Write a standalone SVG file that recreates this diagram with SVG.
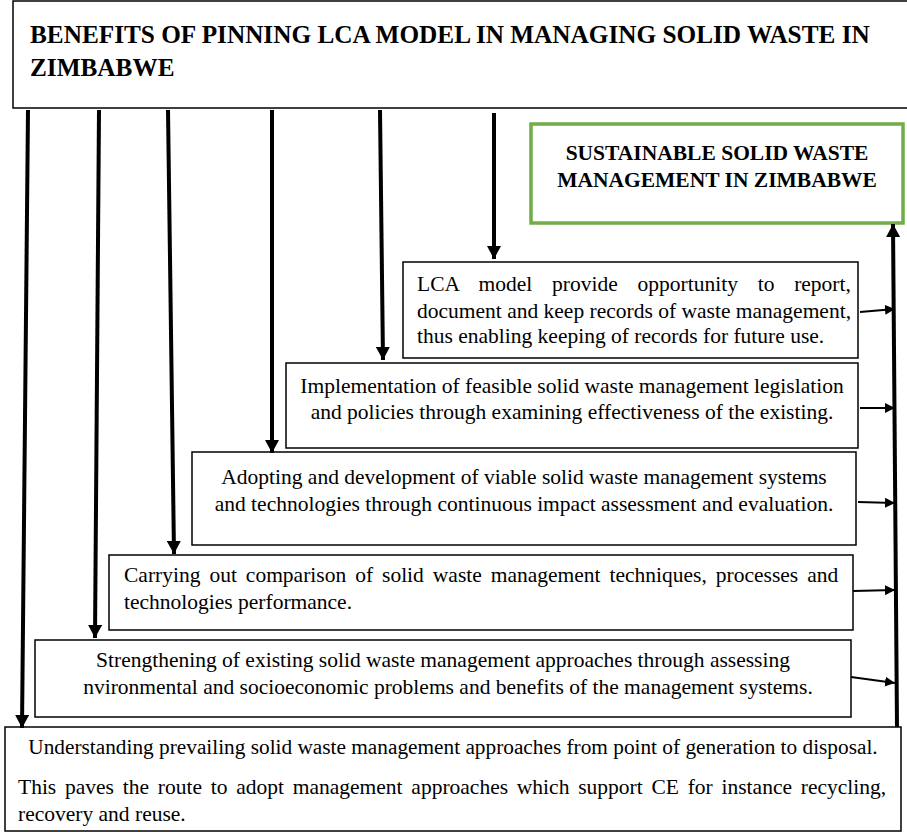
<svg xmlns="http://www.w3.org/2000/svg" width="907" height="832" viewBox="0 0 907 832">
<defs>
<style>
.box{fill:#fff;stroke:#000;stroke-width:1.5}
.green{fill:#fff;stroke:#70AD47;stroke-width:3.5}
.down{stroke:#000;stroke-width:4;fill:none}
.side{stroke:#000;stroke-width:1.8;fill:none}
</style>
<marker id="big" markerUnits="userSpaceOnUse" markerWidth="14" markerHeight="14" refX="13" refY="7" orient="auto">
<path d="M0,0 L13,7 L0,14 Z" fill="#000"/>
</marker>
<marker id="small" markerUnits="userSpaceOnUse" markerWidth="11" markerHeight="10" refX="10" refY="5" orient="auto">
<path d="M0,0 L10,5 L0,10 Z" fill="#000"/>
</marker>
</defs>

<g id="title">
<rect class="box" x="13" y="1" width="900" height="107"/>
<text x="30" y="43" font-family="'Liberation Serif', serif" font-weight="bold" font-size="25.25" fill="#000">BENEFITS OF PINNING LCA MODEL IN MANAGING SOLID WASTE IN</text>
<text x="30" y="76" font-family="'Liberation Serif', serif" font-weight="bold" font-size="25.25" fill="#000">ZIMBABWE</text>
</g>

<g id="goal">
<rect class="green" x="531" y="124" width="372" height="99"/>
<text x="717" y="160" text-anchor="middle" font-family="'Liberation Serif', serif" font-weight="bold" font-size="21.5" fill="#000">SUSTAINABLE SOLID WASTE</text>
<text x="717" y="187" text-anchor="middle" font-family="'Liberation Serif', serif" font-weight="bold" font-size="21.5" fill="#000">MANAGEMENT IN ZIMBABWE</text>
</g>

<g id="records">
<rect class="box" x="403" y="262" width="455" height="96"/>
<text x="417" y="291" word-spacing="14.4" font-family="'Liberation Serif', serif" font-size="21.5" fill="#000">LCA model provide opportunity to report,</text>
<text x="417" y="318" font-family="'Liberation Serif', serif" font-size="21.5" fill="#000">document and keep records of waste management,</text>
<text x="417" y="343" font-family="'Liberation Serif', serif" font-size="21.5" fill="#000">thus enabling keeping of records for future use.</text>
</g>

<g id="legislation">
<rect class="box" x="286" y="363" width="572" height="85"/>
<text x="572" y="393" text-anchor="middle" font-family="'Liberation Serif', serif" font-size="21.5" fill="#000">Implementation of feasible solid waste management legislation</text>
<text x="572" y="419" text-anchor="middle" font-family="'Liberation Serif', serif" font-size="21.5" fill="#000">and policies through examining effectiveness of the existing.</text>
</g>

<g id="systems">
<rect class="box" x="192" y="452" width="664" height="93"/>
<text x="524" y="484" text-anchor="middle" font-family="'Liberation Serif', serif" font-size="21.5" fill="#000">Adopting and development of viable solid waste management systems</text>
<text x="524" y="511" text-anchor="middle" font-family="'Liberation Serif', serif" font-size="21.5" fill="#000">and technologies through continuous impact assessment and evaluation.</text>
</g>

<g id="comparison">
<rect class="box" x="109" y="555" width="744" height="75"/>
<text x="124" y="582" word-spacing="3.6" font-family="'Liberation Serif', serif" font-size="21.5" fill="#000">Carrying out comparison of solid waste management techniques, processes and</text>
<text x="124" y="609" font-family="'Liberation Serif', serif" font-size="21.5" fill="#000">technologies performance.</text>
</g>

<g id="strengthening">
<rect class="box" x="35" y="640" width="816" height="77"/>
<text x="443" y="667" text-anchor="middle" font-family="'Liberation Serif', serif" font-size="21.5" fill="#000">Strengthening of existing solid waste management approaches through assessing</text>
<text x="448" y="694" text-anchor="middle" font-family="'Liberation Serif', serif" font-size="21.5" fill="#000">nvironmental and socioeconomic problems and benefits of the management systems.</text>
</g>

<g id="understanding">
<rect class="box" x="5" y="727" width="896" height="104"/>
<text x="453" y="754" text-anchor="middle" font-family="'Liberation Serif', serif" font-size="21.3" fill="#000">Understanding prevailing solid waste management approaches from point of generation to disposal.</text>
<text x="18" y="794" word-spacing="3.4" font-family="'Liberation Serif', serif" font-size="21.5" fill="#000">This paves the route to adopt management approaches which support CE for instance recycling,</text>
<text x="18" y="821" font-family="'Liberation Serif', serif" font-size="21.5" fill="#000">recovery and reuse.</text>
</g>

<g id="connectors">
<line class="down" x1="28" y1="110" x2="22" y2="728" marker-end="url(#big)"/>
<line class="down" x1="99" y1="110" x2="95" y2="638" marker-end="url(#big)"/>
<line class="down" x1="168" y1="110" x2="174" y2="554" marker-end="url(#big)"/>
<line class="down" x1="272" y1="110" x2="272" y2="453" marker-end="url(#big)"/>
<line class="down" x1="380" y1="110" x2="383" y2="360" marker-end="url(#big)"/>
<line class="down" x1="494" y1="113" x2="494" y2="259" marker-end="url(#big)"/>
<line class="down" x1="897" y1="727" x2="893" y2="224" marker-end="url(#big)"/>
<line class="side" x1="860" y1="312" x2="895" y2="309" marker-end="url(#small)"/>
<line class="side" x1="860" y1="408" x2="895" y2="408" marker-end="url(#small)"/>
<line class="side" x1="858" y1="502" x2="895" y2="503" marker-end="url(#small)"/>
<line class="side" x1="853" y1="591" x2="895" y2="590" marker-end="url(#small)"/>
<line class="side" x1="851" y1="677" x2="895" y2="683" marker-end="url(#small)"/>
</g>
</svg>
